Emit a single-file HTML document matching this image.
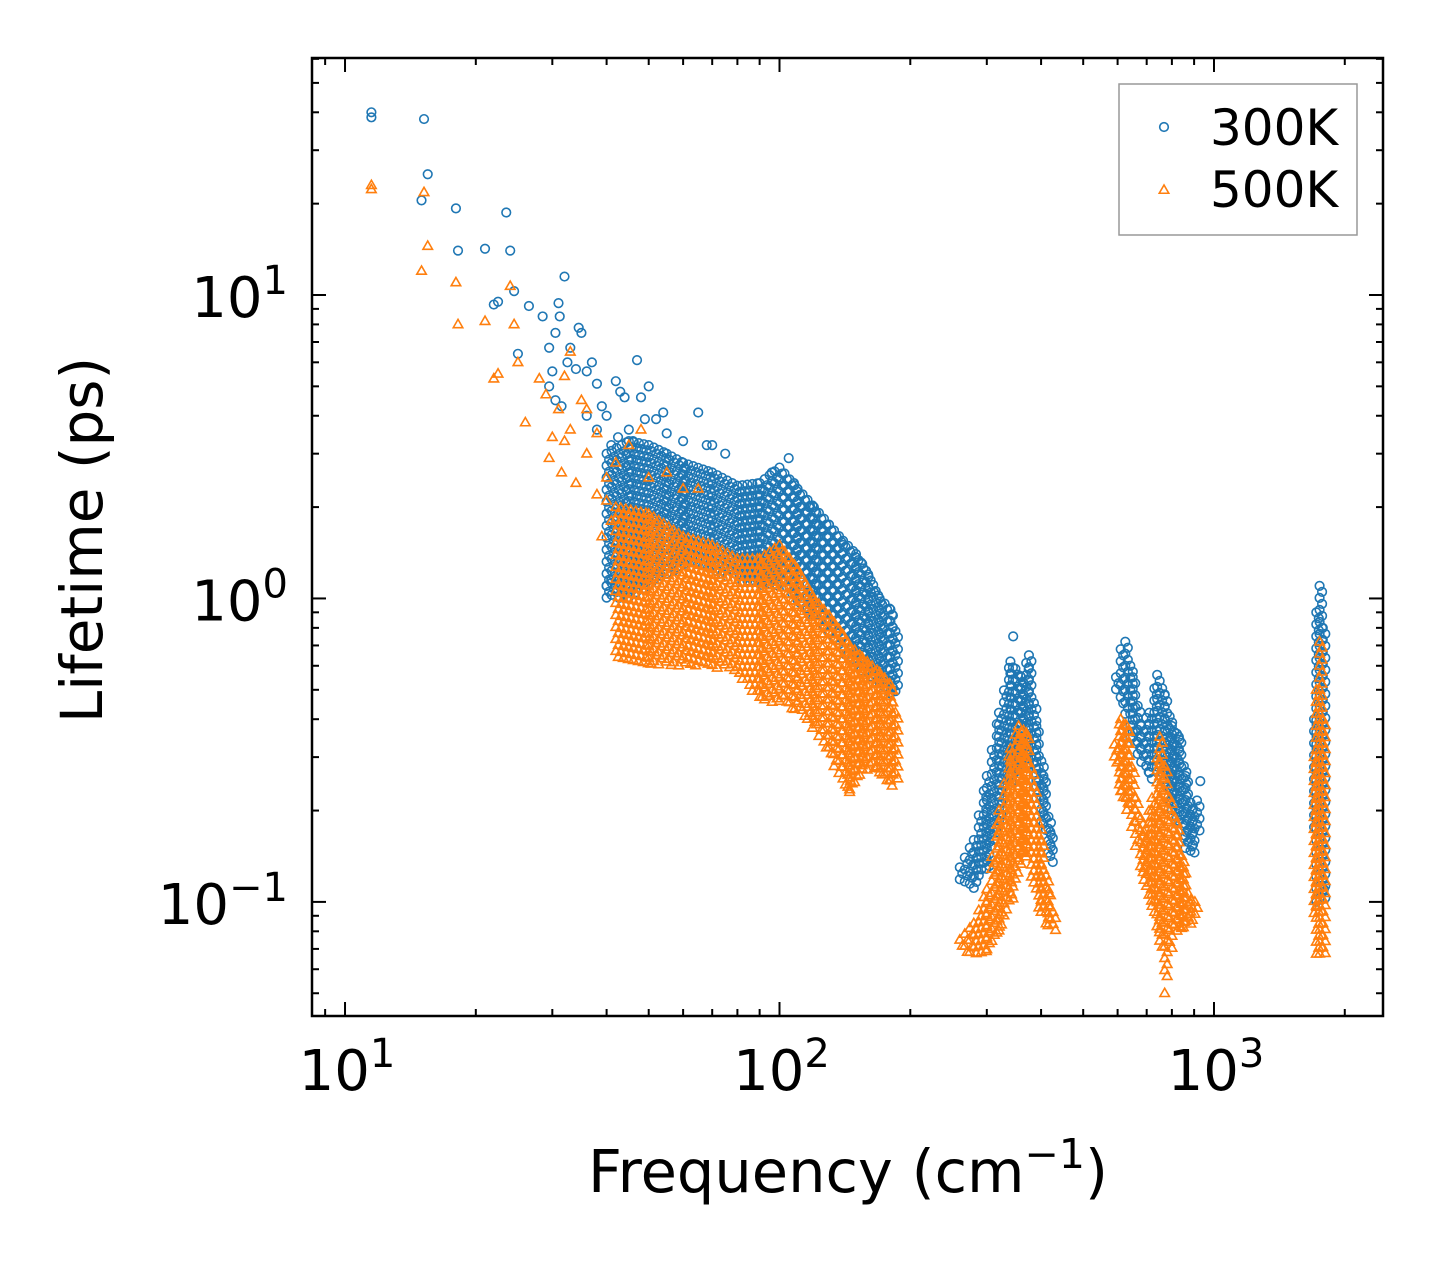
<!DOCTYPE html>
<html><head><meta charset="utf-8"><style>
html,body{margin:0;padding:0;background:#fff}
svg{display:block;font-family:"DejaVu Sans","Liberation Sans",sans-serif}
</style></head><body>
<svg id="chart" width="1442" height="1265" viewBox="0 0 1442 1265" xmlns="http://www.w3.org/2000/svg">
<g id="marks"></g>
<g id="axes"></g>
</svg>
<script>
// ---- data ----
const xTickDecades = [1, 2, 3];
const yTickDecades = [-1, 0, 1];
const seriesNames = ["300K", "500K"];
const sparse300 = [[11.5,40],[11.5,38.5],[15.2,38],[15.5,25],[15,20.5],[18,19.3],[23.5,18.7],[18.2,14],[21,14.2],[24,14],[22,9.3],[22.5,9.5],[24.5,10.3],[26.5,9.2],[28.5,8.5],[29.5,6.7],[25,6.4],[31,9.4],[31.2,8.5],[32,11.5],[30.5,7.5],[33,6.7],[34.5,7.8],[35,7.5],[32.5,6],[30,5.6],[29.5,5],[30.5,4.5],[31.5,4.3],[34,5.7],[36,5.6],[37,6],[38,5.1],[39,4.3],[36,4],[38,3.6],[40,4],[42,5.2],[43,4.8],[44,4.6],[47,6.1],[48,4.6],[50,5],[45,3.6],[41,3.2],[42.5,3.4],[46,3.3],[49,3.9],[52,3.9],[54,4.1],[55,3.5],[60,3.3],[65,4.1],[68,3.2],[70,3.2],[75,3],[96,2.6],[105,2.9],[108,2.4],[117,2.0],[125,1.7],[140,1.5],[155,1.3],[165,1.05],[345,0.75],[1720,0.1],[1790,0.11],[930,0.25],[40,1.1],[41,1.15],[42,1.05],[43,1.2]];
const sparse500 = [[11.5,23],[11.5,22.3],[15.2,21.8],[15.5,14.5],[15,12],[18,11],[18.2,8],[21,8.2],[22,5.3],[22.5,5.5],[24,10.7],[24.5,8],[25,6],[26,3.8],[28,5.3],[29,4.7],[30,3.4],[31,4.2],[32,5.4],[33,6.5],[29.5,2.9],[32,3.3],[35,4.5],[36,4.2],[38,3.5],[33,3.6],[31.5,2.6],[34,2.4],[36,3],[40,2.5],[42,2.8],[45,3.2],[48,3.6],[50,2.5],[55,2.6],[60,2.3],[65,2.3],[38,2.2],[40,2.1],[41,1.8],[39,1.6],[160,0.6],[145,0.23],[770,0.05]];
// envelope segments: [frequency, lowest lifetime, highest lifetime]
const env300 = [
 [[40,1.0,3.0],[45,1.0,3.3],[50,1.1,3.2],[55,1.2,3.0],[60,1.3,2.8],[70,1.2,2.6],[80,1.15,2.35],[90,1.1,2.4],[100,1.1,2.7],[110,0.95,2.3],[120,0.85,2.0],[130,0.75,1.75],[140,0.65,1.55],[150,0.6,1.4],[160,0.55,1.2],[170,0.52,1.0],[180,0.48,0.92],[186,0.48,0.75]],
 [[260,0.115,0.13],[280,0.11,0.16],[300,0.13,0.26],[320,0.18,0.42],[340,0.26,0.62],[360,0.28,0.55],[375,0.28,0.65],[390,0.22,0.38],[405,0.17,0.26],[420,0.13,0.17],[428,0.13,0.14]],
 [[595,0.5,0.55],[610,0.45,0.68],[625,0.4,0.72],[650,0.32,0.55],[680,0.28,0.38],[710,0.25,0.42],[740,0.28,0.56],[770,0.25,0.48],[800,0.2,0.38],[830,0.18,0.35],[860,0.15,0.26],[890,0.14,0.2],[920,0.18,0.22]],
 [[1700,0.17,0.4],[1720,0.1,0.9],[1750,0.1,1.1],[1780,0.1,0.8],[1800,0.1,0.3]]
];
const env500 = [
 [[42,0.62,2.0],[50,0.6,1.9],[60,0.6,1.6],[70,0.6,1.5],[80,0.55,1.35],[90,0.46,1.35],[100,0.45,1.5],[110,0.42,1.25],[120,0.37,1.0],[130,0.3,0.88],[140,0.24,0.76],[145,0.23,0.7],[155,0.27,0.64],[170,0.26,0.57],[180,0.24,0.52],[186,0.25,0.4]],
 [[260,0.07,0.075],[280,0.065,0.085],[300,0.068,0.11],[320,0.08,0.2],[340,0.1,0.32],[355,0.13,0.38],[370,0.14,0.36],[385,0.11,0.24],[400,0.09,0.16],[415,0.08,0.11],[428,0.078,0.09]],
 [[590,0.28,0.33],[610,0.22,0.4],[630,0.2,0.38],[660,0.15,0.22],[690,0.11,0.17],[720,0.09,0.22],[750,0.07,0.35],[770,0.055,0.28],[790,0.07,0.22],[820,0.08,0.18],[850,0.08,0.13],[880,0.085,0.1],[910,0.09,0.1]],
 [[1700,0.09,0.3],[1720,0.065,0.5],[1750,0.065,0.72],[1780,0.065,0.4],[1800,0.07,0.12]]
];

// ---- axes ----
const L=312,R=1383,T=58,B=1016;
const xL=0.924,xR=3.389,yB=-1.376,yT=1.781;
const X=f=>L+(Math.log10(f)-xL)/(xR-xL)*(R-L);
const Y=v=>B-(Math.log10(v)-yB)/(yT-yB)*(B-T);
const NS="http://www.w3.org/2000/svg";
function mk(tag,attrs,parent){const e=document.createElementNS(NS,tag);for(const k in attrs)e.setAttribute(k,attrs[k]);parent.appendChild(e);return e;}
const marks=document.getElementById('marks'), axes=document.getElementById('axes');
const C1="#1f77b4", C2="#ff7f0e";
function circle(x,y,parent){return mk('circle',{cx:x,cy:y,r:4.3,fill:'none',stroke:C1,'stroke-width':1.6},parent);}
function tri(x,y,parent){const s=5;return mk('polygon',{points:`${x},${y-s} ${x-s*0.95},${y+s*0.65} ${x+s*0.95},${y+s*0.65}`,fill:'none',stroke:C2,'stroke-width':1.6},parent);}
function envPoints(segs){
  const out=[];
  segs.forEach(seg=>{
    for(let i=0;i<seg.length-1;i++){
      const a=seg[i],b=seg[i+1];
      const xa=X(a[0]),xb=X(b[0]);
      for(let x=xa;x<xb||(i===seg.length-2&&x<=xb+0.01);x+=5){
        const t=xb>xa?(x-xa)/(xb-xa):0;
        const yl=Y(a[1])+(Y(b[1])-Y(a[1]))*t;
        const yh=Y(a[2])+(Y(b[2])-Y(a[2]))*t;
        let k=0;
        for(let y=yh;y<=yl+0.01;y+=6){out.push([x+((k++)%2)*2.5,y]);}
      }
    }
  });
  return out;
}
const g1=mk('g',{},marks);


sparse300.forEach(p=>{const e=circle(X(p[0]),Y(p[1]),g1);

});
envPoints(env300).forEach(p=>{const e=circle(p[0],p[1],g1);

});
const g2=mk('g',{},marks);


sparse500.forEach(p=>{const e=tri(X(p[0]),Y(p[1]),g2);

});
envPoints(env500).forEach(p=>{const e=tri(p[0],p[1],g2);

});

// frame
const fr=mk('rect',{x:L,y:T,width:R-L,height:B-T,fill:'none',stroke:'#000','stroke-width':2.5},axes);


for(let d=0;d<=3;d++){for(let m=1;m<=9;m++){const f=m*Math.pow(10,d);const lg=Math.log10(f);if(lg<xL||lg>xR)continue;const x=X(f);const len=m===1?14:7;
mk('line',{x1:x,y1:B,x2:x,y2:B-len,stroke:'#000','stroke-width':2},axes);
mk('line',{x1:x,y1:T,x2:x,y2:T+len,stroke:'#000','stroke-width':2},axes);}}
xTickDecades.forEach(d=>{const t=mk('text',{x:X(Math.pow(10,d))+2,y:1090,'text-anchor':'middle','font-size':56},axes);


t.innerHTML=`10<tspan dy="-23" font-size="40">${d}</tspan>`;});
for(let d=-2;d<=1;d++){for(let m=1;m<=9;m++){const v=m*Math.pow(10,d);const lg=Math.log10(v);if(lg<yB||lg>yT)continue;const y=Y(v);const len=m===1?14:7;
mk('line',{x1:L,y1:y,x2:L+len,y2:y,stroke:'#000','stroke-width':2},axes);
mk('line',{x1:R,y1:y,x2:R-len,y2:y,stroke:'#000','stroke-width':2},axes);}}
yTickDecades.forEach(d=>{const t=mk('text',{x:288,y:Y(Math.pow(10,d))+22,'text-anchor':'end','font-size':56},axes);


t.innerHTML=d<0?`10<tspan dy="-23" font-size="40">−1</tspan>`:`10<tspan dy="-23" font-size="40">${d}</tspan>`;});
const xt=mk('text',{x:848,y:1192,'text-anchor':'middle','font-size':59},axes);


xt.innerHTML='Frequency (cm<tspan dy="-24" font-size="41">−1</tspan><tspan dy="24">)</tspan>';
const yt=mk('text',{x:102,y:540,'text-anchor':'middle','font-size':58,transform:'rotate(-90 102 540)'},axes);


yt.textContent='Lifetime (ps)';
const lg=mk('g',{},axes);


mk('rect',{x:1119,y:84,width:238,height:151,fill:'#fff',stroke:'#999','stroke-width':1.5},lg);
circle(1164,127,lg);
tri(1164,190,lg);
seriesNames.forEach((n,i)=>{const t=mk('text',{x:1210,y:145+i*62,'font-size':50},lg);


t.textContent=n;});
</script>
</body></html>
